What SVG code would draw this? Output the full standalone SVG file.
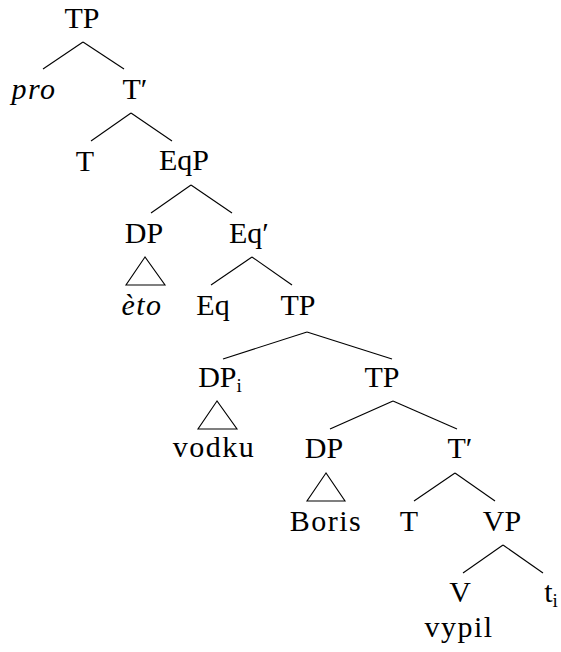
<svg xmlns="http://www.w3.org/2000/svg" width="561" height="652" viewBox="0 0 561 652">
<style>
text{font-family:"Liberation Serif","Times New Roman",serif;font-size:30px;fill:#000;text-anchor:middle}
.it{font-style:italic}
.w{letter-spacing:1.5px}
.sub{font-size:19px}
line,polygon{stroke:#000;stroke-width:1.1;fill:none}
</style>
<rect width="561" height="652" fill="#fff"/>
<g id="edges">
<line x1="83" y1="42" x2="43" y2="69"/><line x1="83" y1="42" x2="124" y2="69"/>
<line x1="131" y1="113" x2="91" y2="141"/><line x1="131" y1="113" x2="172" y2="141"/>
<line x1="191" y1="185" x2="151" y2="213"/><line x1="191" y1="185" x2="232" y2="213"/>
<line x1="252" y1="257" x2="211" y2="285"/><line x1="252" y1="257" x2="292" y2="285"/>
<line x1="307" y1="332" x2="223" y2="359"/><line x1="307" y1="332" x2="392" y2="359"/>
<line x1="393" y1="401" x2="330" y2="429"/><line x1="393" y1="401" x2="457" y2="429"/>
<line x1="455" y1="473" x2="414" y2="501"/><line x1="455" y1="473" x2="495" y2="501"/>
<line x1="503" y1="545" x2="463" y2="573"/><line x1="503" y1="545" x2="543" y2="573"/>
<polygon points="145,257 126,285 165,285"/>
<polygon points="217,401 198,429 237,429"/>
<polygon points="326,473 307,501 345,501"/>
</g>
<g id="n-tp1"><text x="82" y="28">TP</text></g>
<g id="n-pro"><text class="it w" x="34" y="99">pro</text></g>
<g id="n-tbar1"><text x="135" y="99">T′</text></g>
<g id="n-t1"><text x="85" y="171">T</text></g>
<g id="n-eqp"><text x="184" y="170">EqP</text></g>
<g id="n-dp1"><text x="144" y="243">DP</text></g>
<g id="n-eqbar"><text x="249" y="243">Eq′</text></g>
<g id="n-eto"><text class="it w" x="142" y="315">èto</text></g>
<g id="n-eq"><text x="213" y="315">Eq</text></g>
<g id="n-tp2"><text x="298" y="315">TP</text></g>
<g id="n-dpi"><text x="220" y="387">DP<tspan class="sub" dy="5">i</tspan></text></g>
<g id="n-tp3"><text x="382" y="387">TP</text></g>
<g id="n-vodku"><text class="w" x="214" y="457">vodku</text></g>
<g id="n-dp2"><text x="324" y="458">DP</text></g>
<g id="n-tbar2"><text x="460" y="458">T′</text></g>
<g id="n-boris"><text class="w" x="326" y="531">Boris</text></g>
<g id="n-t2"><text x="409" y="531">T</text></g>
<g id="n-vp"><text x="502" y="531">VP</text></g>
<g id="n-v"><text x="460" y="602">V</text></g>
<g id="n-ti"><text x="551" y="602">t<tspan class="sub" dy="5">i</tspan></text></g>
<g id="n-vypil"><text class="w" x="459" y="637">vypil</text></g>
</svg>
